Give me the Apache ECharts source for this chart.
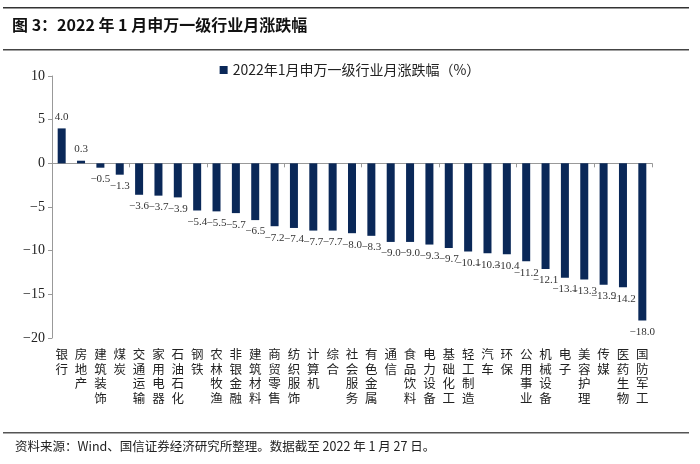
<!DOCTYPE html>
<html><head><meta charset="utf-8">
<script src="https://cdn.jsdelivr.net/npm/echarts@6/dist/echarts.min.js"></script>
<style>html,body{margin:0;padding:0;background:#fff}#c{width:700px;height:464px}</style>
</head><body><div id="c"></div>
<script>
const categories = ['银行','房地产','建筑装饰','煤炭','交通运输','家用电器','石油石化','钢铁','农林牧渔','非银金融','建筑材料','商贸零售','纺织服饰','计算机','综合','社会服务','有色金属','通信','食品饮料','电力设备','基础化工','轻工制造','汽车','环保','公用事业','机械设备','电子','美容护理','传媒','医药生物','国防军工'];
const values = [4.0,0.3,-0.5,-1.3,-3.6,-3.7,-3.9,-5.4,-5.5,-5.7,-6.5,-7.2,-7.4,-7.7,-7.7,-8.0,-8.3,-9.0,-9.0,-9.3,-9.7,-10.1,-10.3,-10.4,-11.2,-12.1,-13.1,-13.3,-13.9,-14.2,-18.0];
const yTicks = [-20,-15,-10,-5,0,5,10];
const seriesName = '2022年1月申万一级行业月涨跌幅（%）';
const titleText = '图 3：2022 年 1 月申万一级行业月涨跌幅';
const footerText = '资料来源：Wind、国信证券经济研究所整理。数据截至 2022 年 1 月 27 日。';

const serif = '"Liberation Serif","Noto Sans CJK SC",serif';
const cjk = '"Noto Sans CJK SC",sans-serif';
const chart = echarts.init(document.getElementById('c'));
chart.setOption({
  animation:false,
  backgroundColor:'#fff',
  legend:{top:58,left:'center',itemWidth:8,itemHeight:8,icon:'rect',itemGap:4,
    textStyle:{fontFamily:cjk,fontSize:14,color:'#222'},data:[seriesName]},
  grid:{left:52,right:48,top:76,bottom:126},
  xAxis:[{type:'category',data:categories,
    axisLine:{onZero:true,lineStyle:{color:'#999'}},
    axisTick:{show:true,inside:false,length:4,lineStyle:{color:'#999'}},
    axisLabel:{show:false}},
   {type:'category',data:categories,position:'bottom',
    axisLine:{show:false},axisTick:{show:false},
    axisLabel:{interval:0,margin:9,fontFamily:cjk,fontSize:12.5,lineHeight:14.5,color:'#222',
      verticalAlign:'top',formatter:v=>v.split('').join('\n')}}],
  yAxis:{type:'value',min:-20,max:10,interval:5,
    axisLine:{show:true,lineStyle:{color:'#999'}},
    axisTick:{show:true,length:4,lineStyle:{color:'#999'}},
    splitLine:{show:false},
    axisLabel:{fontFamily:serif,fontSize:14,color:'#222',margin:7,
      formatter:v=>yTicks.includes(v)?String(v).replace('-','\u2212'):''}},
  series:[{name:seriesName,type:'bar',xAxisIndex:0,barWidth:8,
    itemStyle:{color:'#0a2858'},
    data:values.map(v=>({value:v,label:{position:v>=0?'top':'bottom'}})),
    label:{show:true,fontFamily:serif,fontSize:11,color:'#333',distance:6,
      formatter:p=>p.value.toFixed(1).replace('-','\u2212')}}],
  graphic:[
    {type:'rect',shape:{x:3,y:7,width:686,height:1.5},style:{fill:'#333'}},
    {type:'text',left:12,top:17,style:{text:titleText,font:'bold 16px '+cjk,fill:'#111'}},
    {type:'rect',shape:{x:3,y:49,width:686,height:1.5},style:{fill:'#444'}},
    {type:'rect',shape:{x:3,y:432,width:686,height:1.5},style:{fill:'#555'}},
    {type:'text',left:15,top:440,style:{text:footerText,font:'12.5px '+cjk,fill:'#222'}}
  ]
});
</script></body></html>
